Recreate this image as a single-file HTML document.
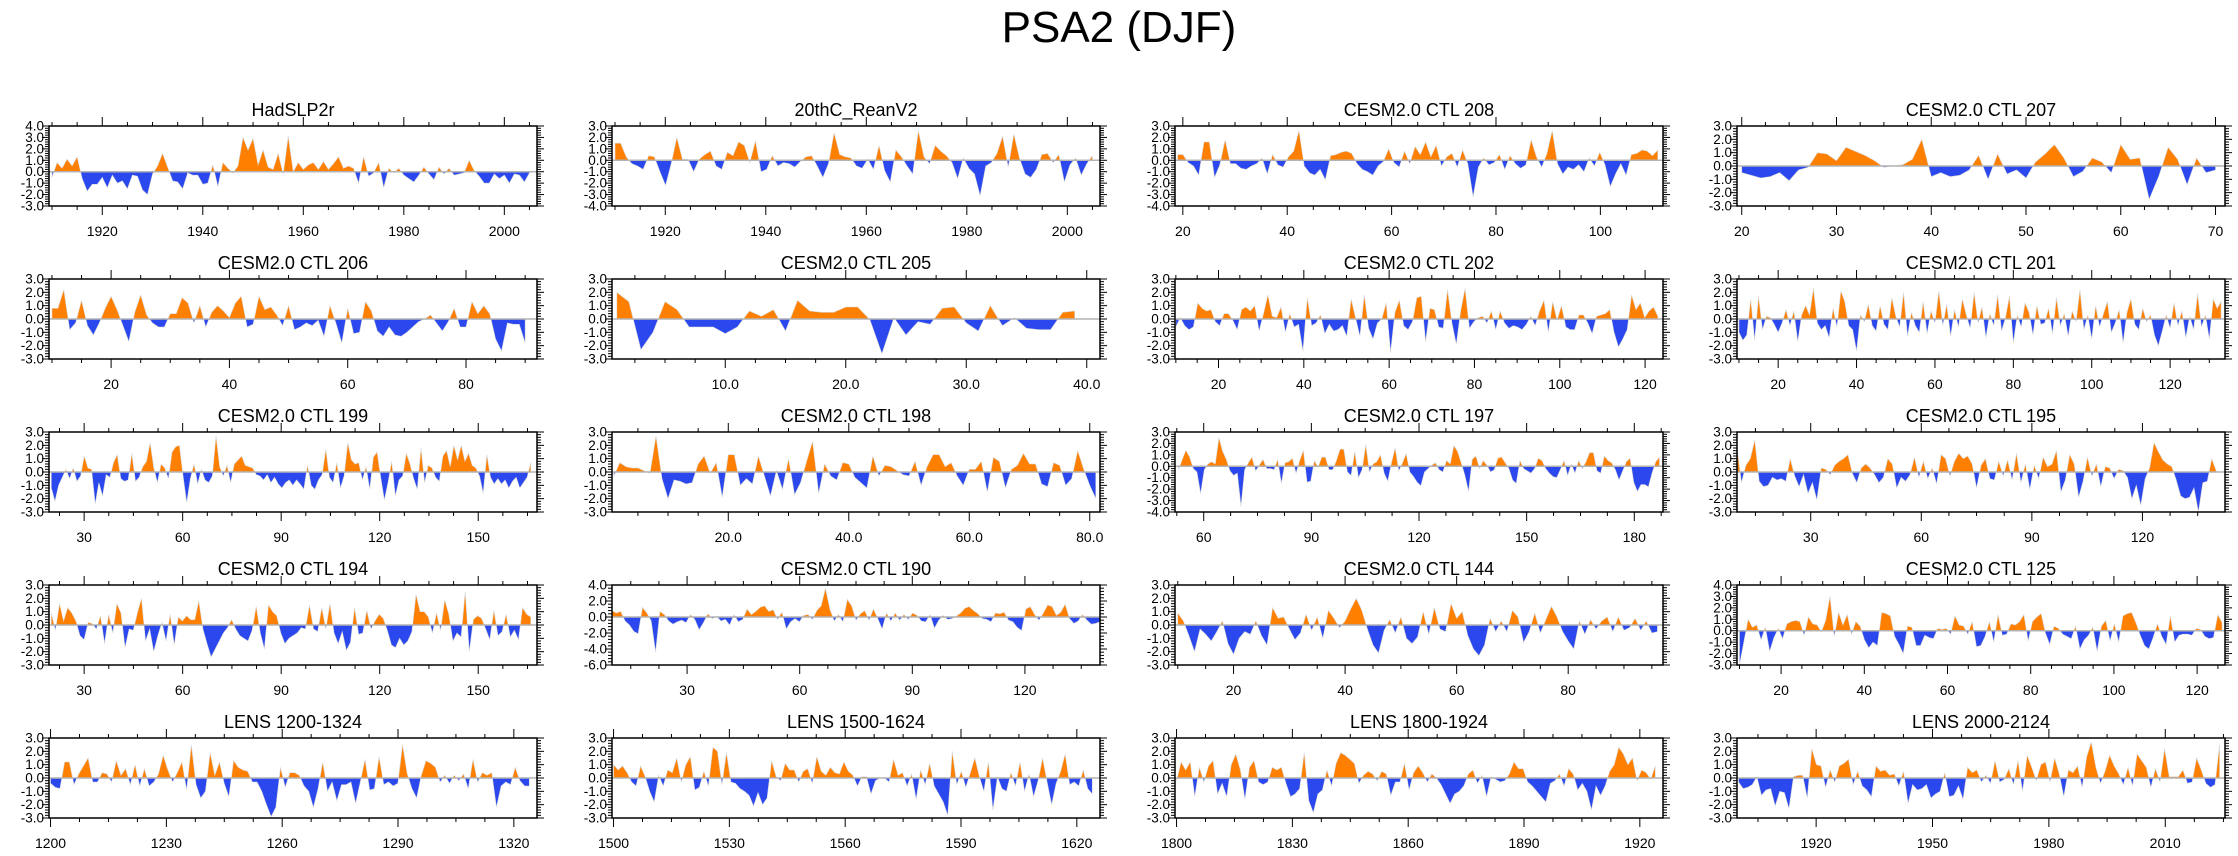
<!DOCTYPE html>
<html><head><meta charset="utf-8"><title>PSA2 (DJF)</title>
<style>
html,body{margin:0;padding:0;background:#fff;}
svg{display:block;font-family:"Liberation Sans",sans-serif;}
</style></head>
<body>
<svg id="chart" width="2238" height="856" viewBox="0 0 2238 856" xmlns="http://www.w3.org/2000/svg">
<text x="1119" y="42" text-anchor="middle" font-size="44">PSA2 (DJF)</text>
</svg>
<script>
const titles = ["HadSLP2r","20thC_ReanV2","CESM2.0 CTL 208","CESM2.0 CTL 207","CESM2.0 CTL 206","CESM2.0 CTL 205","CESM2.0 CTL 202","CESM2.0 CTL 201","CESM2.0 CTL 199","CESM2.0 CTL 198","CESM2.0 CTL 197","CESM2.0 CTL 195","CESM2.0 CTL 194","CESM2.0 CTL 190","CESM2.0 CTL 144","CESM2.0 CTL 125","LENS 1200-1324","LENS 1500-1624","LENS 1800-1924","LENS 2000-2124"];
const yMins = [-3,-4,-4,-3,-3,-3,-3,-3,-3,-3,-4,-3,-3,-6,-3,-3,-3,-3,-3,-3];
const yMaxs = [4,3,3,3,3,3,3,3,3,3,3,3,3,4,3,4,3,3,3,3];
const ySteps = [1,1,1,1,1,1,1,1,1,1,1,1,1,2,1,1,1,1,1,1];
const xMins = [1909.4,1909.4,18.5,19.5,9.5,0.6,9.8,9.5,19.3,0.7,52,10,19.3,10,9.5,9.4,1199.6,1499.6,1799.6,1899.6];
const xMaxs = [2006.5,2006.5,112,71,92,41.1,124.2,134,167.9,81.7,188,142.4,167.9,140,97,126.7,1326,1626,1926,2025.4];
const dataFirst = [1910,1910,19,20,10,1,10,10,20,1,53,10,20,10,10,10,1200,1500,1800,1900];
const dataLast = [2005,2005,111,70,90,39,123,133,166,81,187,140,166,140,96,126,1324,1624,1924,2024];
const tickStart = [1920,1920,20,20,20,10,20,20,30,20,60,30,30,30,20,20,1200,1500,1800,1920];
const tickStep = [20,20,20,10,20,10,20,20,30,20,30,30,30,30,20,20,30,30,30,30];
const tickDecimals = [0,0,0,0,0,1,0,0,0,1,0,0,0,0,0,0,0,0,0,0];

const vHad = [-0.5,0.8,0.3,1.1,0.5,1.3,-0.6,-1.7,-1.1,-1.1,-0.5,-1.4,-0.3,-1.0,-0.8,-1.5,-0.3,-0.4,-1.6,-2.0,-0.2,0.5,1.6,0.4,-0.8,-0.9,-1.5,-0.1,-0.3,-0.3,-1.1,-1.0,0.6,-1.3,0.8,0.3,-0.1,0.5,3.0,1.9,2.9,0.6,1.9,0.4,0.2,1.6,-0.2,3.1,0,0.8,0.2,0.6,0.8,0.2,0.9,0.2,0.7,1.3,0.3,0.5,0.3,-1.0,1.3,-0.4,-0.1,0.8,-1.4,0.3,-0.1,0.3,-0.3,-0.6,-0.9,-0.3,0.4,-0.2,-0.7,0.4,-0.2,0.3,-0.3,-0.2,-0.1,1.0,0.1,-0.4,-1.0,-1.0,-0.2,-0.6,-0.3,-1.0,-0.2,-0.3,-0.9,-0.1];
const vRean = [1.5,1.5,0.3,-0.3,-0.5,-0.8,0.4,0.3,-1,-2.2,-0.3,2.0,0.1,0.1,-1,0.1,0.5,0.8,-0.5,-0.8,0.7,0.4,1.6,1.3,-0.2,1.7,-1.0,-0.8,0.4,-0.5,-0.2,-0.3,-0.6,-0.1,0.3,0.4,-0.5,-1.5,-0.3,2.4,0.5,0.3,0.2,-0.5,-0.7,0.1,-0.8,1.3,-0.9,-1.9,0.9,0.3,-0.5,-1.2,2.6,0.3,-0.3,1.3,0.8,0.4,-0.2,-1.6,0.2,-0.7,-1.2,-3.1,-0.5,-0.2,0.6,2.1,-0.6,2.3,0.2,-1.2,-1.5,-0.8,0.5,0.6,-0.2,0.5,-1.9,-0.4,0.2,-1.3,-0.3,0.4];
const v208 = [0.5,0.5,-0.2,-0.5,-1.3,1.6,1.6,-1.5,-0.4,1.8,-0.3,-0.3,-0.7,-0.8,-0.5,-0.3,0.2,-1.2,0.5,-0.4,-0.6,0.3,0.8,2.6,-0.5,-1.1,-1.3,-0.8,-1.7,0.4,0.5,0.7,0.8,0.6,-0.3,-0.8,-1.0,-1.3,-0.5,-0.1,1.0,-0.2,-0.6,0.8,-0.3,1.2,0.5,1.6,0.3,1.3,-0.5,0.3,0.6,-0.6,0.9,-0.3,-3.2,-0.6,0.2,-0.4,-0.2,0.5,-0.8,0.4,-0.3,-0.7,-0.4,1.8,0.3,-0.6,0.6,2.6,-0.3,-1.2,-0.6,-0.8,-0.4,-1.0,0.2,-0.5,0.7,-0.4,-2.3,-1.2,-0.3,-1.3,0.5,0.6,0.9,0.8,0.4,0.9];
const v207 = [-0.5,-0.7,-0.9,-0.8,-0.5,-1.1,-0.3,-0.1,1.0,0.9,0.4,1.4,1.1,0.8,0.4,-0.1,0,0.1,0.5,2.0,-0.8,-0.5,-0.8,-0.7,-0.3,0.8,-1.0,0.9,-0.6,-0.3,-0.9,0.3,0.9,1.6,0.6,-0.8,-0.4,0.6,0.3,-0.5,1.6,0.5,0.6,-2.5,-0.8,1.4,0.5,-1.4,0.6,-0.5,-0.3];
const v206 = [0.8,0.8,2.2,-0.8,-0.3,1.4,-0.5,-1.2,-0.3,0.8,1.7,0.7,-0.5,-1.7,0.5,1.8,0.3,-0.3,-0.6,-0.6,0.4,0.4,1.6,1.2,-0.3,1.0,-0.6,0.5,1.0,0.6,0.1,1.2,1.7,-0.6,-0.4,1.7,0.7,0.9,0.3,-0.5,1.0,-0.8,-0.6,-0.3,-0.5,-0.1,-1.3,1.0,-0.3,-1.8,0.8,-1.1,-1.0,1.3,0.6,-0.9,-1.3,-0.6,-1.2,-1.3,-1.0,-0.6,-0.2,0,0.3,-0.3,-0.9,-0.2,0.8,-0.6,-0.6,1.3,0.4,1.0,0.4,-1.5,-2.4,-0.3,-0.4,-0.4,-1.8];
const v205 = [2.0,1.3,-2.3,-1.0,1.3,0.7,-0.6,-0.6,-0.6,-1.1,-0.6,0.6,0.2,0.7,-0.9,1.4,0.6,0.5,0.5,0.9,0.9,-0.05,-2.6,0.1,-1.2,-0.2,-0.4,0.8,0.9,-0.3,-0.9,1.0,-0.5,0.1,-0.7,-0.8,-0.8,0.5,0.6];
const v202 = [-0.6,0.1,-0.5,-0.8,-0.6,1.2,0.8,0.6,0.7,-0.2,-0.5,0.4,0.4,-0.1,-0.8,0.7,0.9,0.6,1.0,-0.9,0.4,1.8,0.2,0.1,0.9,-1.0,0.4,-0.6,-0.4,-2.4,1.6,-0.5,-0.3,0.3,-1.1,-0.4,-0.9,-0.8,-0.5,-1.3,1.5,0.1,-1.3,1.8,-0.7,-1.5,-0.3,0,1.2,-2.5,0.5,1.4,-0.5,-0.8,-0.2,1.6,1.7,-1.7,0.8,0.7,-0.6,-0.7,2.2,-0.3,-1.9,0.6,2.3,-0.7,-0.2,0.1,0.2,-0.3,0.6,-0.8,0.6,-0.3,-0.7,-0.5,-0.6,-0.8,-0.4,0.2,-0.5,0.6,1.4,-1.0,1.3,-0.1,1.0,-0.6,-0.8,-0.8,0.3,0.3,-0.3,-1.1,0.2,0.3,0.4,0.7,-1.0,-2.1,-1.5,-0.8,1.8,0.7,1.2,0.1,0.6,0.9,0.2];
const v201 = [-1.0,-1.6,-1.2,1.5,-1.6,1.7,-0.8,0.2,0.1,-0.4,-1.0,-0.3,0.7,-0.5,0.6,-1.7,0.3,1.0,0.3,2.3,-0.3,-0.8,-0.5,-1.4,0.8,-0.6,2.1,1.3,-0.5,-0.8,-2.4,0.3,-0.2,1.1,-0.5,-0.9,1.0,-0.4,-0.8,1.6,0.2,-0.6,2.0,-1.3,0.5,-0.5,-1.0,1.3,-1.1,0.6,-0.3,2.1,-0.5,1.1,-1.3,0.7,-0.6,1.5,0.3,-0.7,2.0,-0.3,0.9,-1.4,0.4,-0.5,1.8,-0.9,0.1,1.7,-1.8,0.3,-0.6,1.2,0.5,-1.2,1.0,-0.4,-0.3,0.8,-1.1,1.6,-0.5,0.4,-1.3,0.6,-0.2,2.2,-0.8,0.3,-1.5,1.0,-0.6,0.4,1.3,-1.0,-0.3,0.7,-1.8,0.5,1.5,-0.4,-0.8,0.8,-0.2,0.3,-1.2,-2.0,-0.9,0.3,-0.7,1.2,-0.5,0.6,-1.4,0.2,-0.8,1.9,-0.6,0.3,-1.5,1.5,0.8,1.3];
const v199 = [-1.2,-2.2,-1.0,-0.4,0.2,-0.5,0.3,-0.7,-0.3,1.2,0.3,0.2,-2.4,-0.8,-1.8,-0.2,-0.4,0.7,1.3,-0.5,-0.7,-0.6,1.4,-0.7,-0.4,0.4,0.8,2.2,0.3,-0.8,0.6,0.3,-0.5,1.5,1.9,2.0,-0.3,-2.3,-0.5,0.6,-0.9,0.2,-0.6,-0.8,-0.3,2.7,0.4,-0.3,0.5,-0.8,0.6,0.9,1.2,0.5,0.4,0.3,-0.2,-0.3,-0.6,-0.2,-0.8,-0.4,-0.9,-1.2,-0.8,-0.6,-1.0,-0.6,-0.9,-1.3,0.5,-1.0,-1.3,-0.6,-0.2,1.7,-0.4,-0.8,0.7,-1.2,-0.3,2.2,0.9,0.6,0.7,-0.6,0.4,-1.3,1.1,1.5,-0.4,-2.1,-0.8,0.8,-1.8,-0.6,-0.3,1.4,0.6,-0.5,-1.3,1.8,-0.8,0.5,0.3,-0.4,-0.7,1.2,1.6,0.4,2.0,0.9,2.0,0.8,1.4,0.5,0.3,-0.3,-1.6,1.3,-0.4,-0.9,-0.5,-0.9,-0.6,-1.2,-0.7,-0.4,-1.2,-0.8,-0.4,0.7];
const v198 = [-0.3,0.7,0.4,0.3,0.3,0.1,-0.1,2.7,-0.5,-2.0,-0.6,-0.7,-0.9,-0.8,0.6,1.2,-0.1,0.7,-1.9,1.3,1.3,-1.0,-0.5,-0.9,1.2,-0.3,-1.8,0.1,-1.3,1.0,-1.7,-0.8,0.8,2.3,-1.6,0.6,-0.3,-0.6,0.7,0.6,-0.4,-0.8,-1.2,1.2,-0.3,0.5,0.4,0.1,-0.2,-0.3,0.8,-1.0,0.4,1.3,1.3,0.4,0.7,-0.3,-1.0,0.2,0.2,0.8,-1.5,1.1,0.8,-1.2,0.2,0.5,1.4,0.6,0.6,-0.9,-1.1,0.7,0.5,-1.0,-0.5,1.6,0.2,-1.0,-2.0];
const v197 = [-0.3,0.6,1.4,0.8,-0.2,-0.5,-2.4,-0.3,0.2,0.4,0.2,2.5,1.3,0.6,-0.4,-0.8,-0.6,-3.5,-0.3,0.3,0.8,-0.4,0.1,0.6,-0.2,-0.2,-0.3,0.6,-1.5,0.3,0.4,0.7,-0.6,0.5,1.4,-1.4,-1.3,0.5,-0.1,0.8,0.8,-0.3,-0.3,0.5,1.5,1.5,-0.5,-0.8,1.3,-1.0,-0.3,1.9,-0.5,0.2,0.4,1.0,-0.6,-1.3,0.3,1.6,-0.4,0.3,1.1,-0.5,-0.9,-1.4,-1.7,-0.5,-0.2,0.1,0.3,-0.3,-0.5,0.5,0.2,1.8,1.3,0.3,-0.8,-2.2,0.6,0.9,-0.2,0.5,0.1,-0.5,-0.3,0.7,0.8,0.3,-0.2,-1.2,-1.5,0.5,-0.2,-0.4,-0.6,-0.2,0.7,0.5,-0.2,-0.6,-0.9,-1.0,-0.3,0.5,-0.8,0.2,-0.6,0.5,-0.2,0.4,1.2,1.2,-0.4,-0.6,0.9,0.5,0.3,-0.3,-1.2,-0.4,0.4,0.7,-1.4,-2.2,-1.6,-1.6,-1.8,-0.6,0.4,0.8];
const v195 = [1.9,-0.8,0.5,1.0,2.4,-0.7,-1.1,-1.0,-0.4,-0.6,-0.5,-0.7,1.0,-0.3,-1.1,-0.2,-1.6,-0.8,-2.1,0.3,0.2,-0.2,0.5,0.8,1.0,1.3,-0.1,-0.8,0.3,0.6,0.3,-0.2,-0.8,-0.4,1.0,0.6,-1.2,-0.4,-0.7,-0.2,1.1,-0.4,0.8,-0.5,0.3,-0.9,1.3,1.0,-0.3,0.8,1.4,1.0,1.2,0.6,-1.2,0.5,1.0,-0.5,-0.6,0.8,-0.3,0.9,-0.6,1.4,-0.8,0.6,-1.3,0.5,-0.5,1.1,0.4,0.6,1.6,-1.5,-0.6,1.3,0.6,-1.9,-0.7,1.1,-0.3,0.6,-1.1,0.4,0.3,-0.5,0.2,0.1,-0.4,-2.0,-1.0,-2.5,-0.5,0.3,2.2,1.5,0.9,0.6,0.4,-0.6,-1.8,-2.0,-1.9,-1.2,-3.0,-0.8,-0.7,1.0,0.1];
const v194 = [0.9,-0.4,1.6,0.3,1.3,0.9,0.3,-0.8,-1.1,0.2,0.1,-0.3,0.7,-1.4,0.8,-0.6,1.6,0.9,-1.7,-0.3,-0.4,0.9,2.0,-1.2,-0.3,-2.0,-0.8,0.2,-1.2,0.8,-1.5,0.6,0.3,0.7,0.4,0.4,1.8,-0.3,-1.4,-2.4,-1.8,-1.2,-0.6,-0.2,0.4,-0.3,-0.8,-1.0,-1.2,-0.4,1.4,-0.6,-1.8,1.5,1.0,0.7,-0.6,-1.4,-1.0,-0.8,-0.6,-0.2,-0.3,1.5,-0.3,-0.5,1.3,-0.3,1.6,-0.6,-1.4,-0.5,-1.9,-1.3,1.3,-0.7,-0.6,1.1,-0.3,0.3,0.8,0.5,-0.4,-1.5,-1.7,-1.0,-1.5,-1.2,-0.5,2.3,1.0,1.0,0.6,-0.6,0.9,-0.4,1.9,0.8,-1.2,-0.6,-0.9,2.5,-2.0,0.4,0.7,0.5,-0.3,-1.1,1.1,-0.8,-0.5,0.8,-0.9,-0.4,-1.1,1.3,0.8,0.6];
const v190 = [0.8,0.5,0.7,-0.5,-1.0,-1.8,-2.1,1.2,0.5,-0.5,-4.4,0.7,0.3,-0.5,-0.9,-0.6,-0.4,-0.7,0.3,-0.3,-1.6,-0.7,0.4,-0.2,0.1,-0.5,-0.3,-1.0,0.3,-0.6,-0.3,1.0,0.3,0.7,1.2,1.4,0.7,0.9,-0.3,0.6,-1.5,-0.6,-0.2,-0.6,0.2,0.3,-0.3,0.8,1.4,3.6,1.0,-0.5,0.3,-0.6,2.2,1.4,-0.4,0.4,0.8,-0.4,1.0,-0.2,-1.5,0.5,-0.5,0.5,-0.4,0.3,-0.3,0.5,0.2,-0.5,-0.6,0.3,-1.4,-0.4,0.2,-0.3,-0.2,0.1,0.5,1.1,1.3,0.8,0.4,-0.2,-0.3,-0.6,0.5,0.4,0.6,-0.4,-0.6,-1.3,-1.7,1.0,1.3,0.3,-0.4,0.5,1.5,1.3,0.2,0.6,1.6,-0.2,-0.8,-0.5,0.3,-0.4,-0.9,-0.8,-0.6];
const v144 = [0.9,0.3,-0.8,-2.0,-0.3,-0.7,-1.2,-0.5,0.3,-1.4,-2.2,-1.0,-0.5,-0.7,0.3,-0.8,-1.5,1.3,0.5,0.6,-0.3,-1.1,-0.6,0.8,-0.4,0.6,-1.0,1.1,0.5,-0.2,0.3,1.2,2.0,1.1,-0.3,-1.5,-2.1,-0.4,0.4,-0.6,0.6,-1.0,-1.4,-0.9,1.0,-0.7,1.3,-0.3,-0.5,1.6,0.5,1.0,-0.8,-1.8,-2.3,-1.5,0.5,-0.5,0.3,-0.5,1.1,0.6,-1.3,-0.5,0.9,-0.6,0.4,1.4,0.6,-0.5,-1.2,-1.8,0.3,-0.7,0.4,-0.3,0.3,0.6,-0.5,0.6,-0.4,-0.2,0.5,-0.4,0.3,-0.6,-0.5];
const v125 = [-3.0,-1.0,1.0,0.3,0.5,-0.8,0.3,-1.8,-0.6,0.2,-0.7,0.6,0.8,0.9,0.8,-0.4,1.2,0.6,0.5,-0.1,0.9,3.0,-0.5,1.6,0.5,1.4,-0.3,0.8,0.4,-0.8,-1.5,-1.0,-1.3,1.6,1.5,1.3,-0.5,-1.2,-2.0,0.4,0.3,-1.3,-1.3,-0.4,-0.6,-0.7,0.2,0.1,0.2,-0.3,1.3,0.5,0.4,-0.3,0.8,-1.4,-1.3,-0.5,0.8,-1.0,1.4,-0.4,-0.3,0.6,0.5,0.8,1.4,-0.9,0.8,1.2,1.5,-0.2,-1.2,0.4,0.2,-0.3,-0.5,-0.7,0.4,-1.6,-0.8,-0.4,0.3,-1.8,0.4,0.9,-0.9,0.6,-1.0,1.3,1.5,1.6,0.7,-0.4,-1.3,-1.6,-0.6,0.6,-0.5,-1.2,1.3,-1.0,-0.4,-0.3,-0.3,-0.4,0.2,0.1,-0.5,-0.7,-0.6,1.4,0.7];
const vL1200 = [-0.4,-0.7,-0.8,1.2,1.2,-0.5,0.3,0.9,1.5,-0.3,-0.3,0.4,0.3,-0.3,1.3,0.2,0.7,-0.5,1.0,-0.6,0.7,-0.6,-0.3,0.3,1.7,0.6,-0.3,0.4,1.2,-0.9,2.5,-0.5,-1.5,-1.0,1.9,0.2,1.2,-0.4,-1.4,1.3,0.8,0.6,0.5,-0.3,-0.3,-1.0,-2.0,-2.9,-2.2,0.8,-0.7,0.4,0.4,0.2,-0.6,-1.0,-2.2,-0.8,1.2,-1.0,-0.3,-1.7,-0.5,-0.5,-0.3,-1.9,-0.3,1.4,-0.9,-0.8,1.6,-0.5,-0.3,-0.6,-0.4,2.5,0.3,-0.8,-1.5,0.2,1.3,1.1,0.8,-0.3,0.2,-0.4,0.2,-0.2,0.3,-0.8,1.4,-0.3,0.4,0.2,0.4,-2.2,-0.6,-0.3,-0.5,0.8,-0.2,-0.6,-0.6];
const vL1500 = [1.0,0.6,0.9,0.4,-0.3,-0.6,0.9,0.1,-1.0,-1.8,0.2,-0.6,0.6,0.4,1.5,-0.3,1.0,1.6,-0.9,-0.7,0.5,-0.6,2.3,2.0,-0.5,1.9,-0.3,-0.4,-0.8,-1.0,-1.3,-2.1,-1.1,-2.0,-1.5,1.3,0.1,-0.2,1.1,0.6,0.6,-0.3,0.5,0.7,-0.4,1.6,0.5,0.2,0.8,0.4,0.3,1.2,0.5,0.2,-0.6,0.1,0.1,-1.2,-0.2,0,0,-0.3,1.4,0.2,0.4,-0.6,0.3,-1.6,0.6,-0.5,1.1,-0.6,-1.2,-1.8,-2.8,2.0,-0.5,0.5,-0.7,0.4,1.5,0.1,-1.0,1.2,-2.4,0.1,-0.8,-1.0,0.4,-0.6,1.2,-1.0,0.3,-1.4,-0.2,1.5,-0.3,-2.0,-0.4,0.5,1.8,-0.5,-0.3,-0.6,0.6,-0.8,-1.2];
const vL1800 = [-0.2,1.2,0.6,1.2,-1.4,0.8,-0.3,0.9,1.3,-1.2,-0.4,-1.4,1.0,1.8,0.6,-1.6,0.8,1.3,-0.3,-0.5,-0.3,0.8,0.6,0.8,-0.4,-1.4,-1.2,-0.8,1.9,-1.7,-2.6,-1.2,-0.9,0.6,-0.6,1.1,1.9,1.7,1.4,1.1,-0.4,0.2,0.5,0.3,-0.2,0.5,0.3,-1.3,-0.3,-0.3,1.1,-0.9,0.4,0.9,0.4,-0.3,0.3,0,-0.5,-1.2,-1.9,-1.2,-1.0,-0.6,0.3,0.6,-0.4,0.2,-1.4,0.1,-0.1,-0.3,-0.2,0.3,1.2,0.7,0.7,-0.3,-0.6,-1.0,-1.4,-1.8,-0.4,-0.2,0.3,-0.6,0.7,0.3,-0.9,-0.4,-1.0,-2.4,-0.6,-1.3,-0.6,0.5,1.0,2.3,1.8,1.0,1.5,-0.2,0.6,0.4,-0.1,0.9];
const vL2000 = [-0.3,-0.8,-0.7,-0.5,0.1,-1.3,-0.9,-0.8,-2.1,-1.0,-1.1,-2.3,0.1,0.2,0.2,-1.5,2.2,1.0,0.9,-0.7,0.6,-0.3,0.9,1.1,1.4,-0.5,0.5,-0.6,-0.9,-1.4,0.9,0.5,0.6,0.2,0.3,-0.6,0.5,-1.9,-0.5,-0.9,-0.8,-0.5,-1.5,-1.2,-1.0,0.4,-1.4,-1.3,-0.6,-1.6,0.8,0.4,0.6,-0.3,0.2,-0.4,1.3,-0.3,-0.1,0.7,-0.5,1.3,-1.0,1.7,0.8,-0.2,1.0,1.2,-0.3,1.5,0.3,-1.4,0.6,0.4,0.9,-0.7,1.6,2.7,0.8,-0.4,0.5,1.7,0.9,0.3,-0.5,0.8,-0.6,1.8,1.3,0.8,-0.7,0.7,-0.3,2.2,0.1,0.1,0.1,0.6,-0.4,-0.3,1.5,0.6,-0.4,-0.7,-0.5,2.5];
const seriesList = [vHad,vRean,v208,v207,v206,v205,v202,v201,v199,v198,v197,v195,v194,v190,v144,v125,vL1200,vL1500,vL1800,vL2000];

const NS = "http://www.w3.org/2000/svg";
const svg = document.getElementById("chart");
const colLeft = [49,612,1175,1737];
const PW = 488, PH = 80, ROW0 = 126, ROWSTEP = 153;
function mk(tag, attrs, parent){
  const e = document.createElementNS(NS, tag);
  for (const k in attrs) e.setAttribute(k, attrs[k]);
  (parent||svg).appendChild(e);
  return e;
}
for (let p = 0; p < titles.length; p++) {
  const L = colLeft[p % 4], T = ROW0 + ROWSTEP * Math.floor(p / 4);
  const R = L + PW, B = T + PH;
  const g = mk("g", {});
  
  
  const xs = v => L + (v - xMins[p]) / (xMaxs[p] - xMins[p]) * PW;
  const ys = v => B - (v - yMins[p]) / (yMaxs[p] - yMins[p]) * PH;
  const y0 = ys(0);
  const vals = seriesList[p];
  const n = vals.length;
  const xOf = i => dataFirst[p] + i * (dataLast[p] - dataFirst[p]) / (n - 1);
  let d = "M" + xs(xOf(0)).toFixed(2) + "," + y0.toFixed(2);
  for (let i = 0; i < n; i++) d += "L" + xs(xOf(i)).toFixed(2) + "," + ys(vals[i]).toFixed(2);
  d += "L" + xs(xOf(n - 1)).toFixed(2) + "," + y0.toFixed(2) + "Z";
  const cpA = mk("clipPath", {id: "ca" + p}, g);
  mk("rect", {x: L, y: T, width: PW, height: y0 - T}, cpA);
  const cpB = mk("clipPath", {id: "cb" + p}, g);
  mk("rect", {x: L, y: y0, width: PW, height: B - y0}, cpB);
  const pos = mk("path", {d: d, fill: "#ff8000", stroke: "#d8d8d8", "stroke-width": "0.6", "clip-path": "url(#ca" + p + ")"}, g);
  
  
  const neg = mk("path", {d: d, fill: "#2a48ee", stroke: "#d8d8d8", "stroke-width": "0.6", "clip-path": "url(#cb" + p + ")"}, g);
  
  
  const zl = mk("line", {x1: L, x2: R, y1: y0, y2: y0, stroke: "#b4b4b4", "stroke-width": "1.5"}, g);
  
  
  const fr = mk("rect", {x: L, y: T, width: PW, height: PH, fill: "none", stroke: "#000", "stroke-width": "1.5"}, g);
  
  
  const ym = ySteps[p] / 5;
  for (let k = 0; yMins[p] + k * ym <= yMaxs[p] + 1e-6; k++) {
    const v = yMins[p] + k * ym, yy = ys(v);
    const major = (k % 5 === 0), len = major ? 7 : 4;
    mk("line", {x1: L - len, x2: L, y1: yy, y2: yy, stroke: "#000", "stroke-width": "1"}, g);
    mk("line", {x1: R, x2: R + len, y1: yy, y2: yy, stroke: "#000", "stroke-width": "1"}, g);
    if (major) {
      const t = mk("text", {x: L - 5, y: yy + 4.5, "text-anchor": "end", "font-size": "13.5"}, g);
      t.textContent = v.toFixed(1);
      
      
    }
  }
  const xm = tickStep[p] / 4;
  let kStart = Math.ceil((xMins[p] - tickStart[p]) / xm);
  for (let k = kStart; tickStart[p] + k * xm <= xMaxs[p]; k++) {
    const v = tickStart[p] + k * xm, xx = xs(v);
    const major = (((k % 4) + 4) % 4 === 0), len = major ? 9 : 4;
    mk("line", {x1: xx, x2: xx, y1: B, y2: B + len, stroke: "#000", "stroke-width": "1"}, g);
    mk("line", {x1: xx, x2: xx, y1: T - len, y2: T, stroke: "#000", "stroke-width": "1"}, g);
    if (major) {
      const t = mk("text", {x: xx, y: B + 30, "text-anchor": "middle", "font-size": "14"}, g);
      t.textContent = v.toFixed(tickDecimals[p]);
      
      
    }
  }
  const tt = mk("text", {x: L + PW / 2, y: T - 10, "text-anchor": "middle", "font-size": "18"}, g);
  tt.textContent = titles[p];
  
  
}
</script>
</body></html>
